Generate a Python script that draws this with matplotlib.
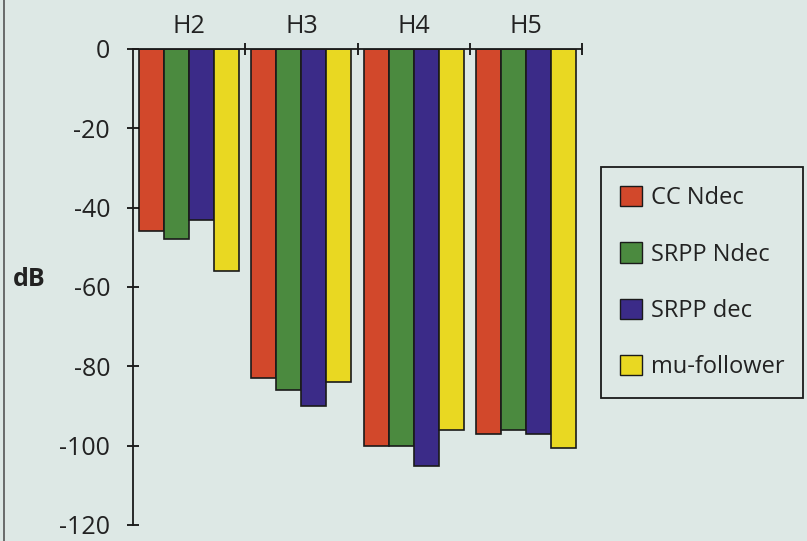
import numpy as np
from matplotlib import pyplot as plt
from matplotlib.patches import Patch

plt.rcParams['font.family'] = ['Open Sans', 'DejaVu Sans']

groups = ["H2", "H3", "H4", "H5"]
series = ["CC Ndec", "SRPP Ndec", "SRPP dec", "mu-follower"]
cc_ndec = [-46, -83, -100, -97]
srpp_ndec = [-48, -86, -100, -96]
srpp_dec = [-43, -90, -105, -97]
mu_follower = [-56, -84, -96, -100.5]
yticks = [0, -20, -40, -60, -80, -100, -120]

colors = ["#d2482b", "#4b8a3f", "#3b2b88", "#e9d822"]
bg = "#dde8e5"


def main():
    fig = plt.figure(figsize=(8.07, 5.41), dpi=100, facecolor=bg)
    W, H = 807, 541
    ax = fig.add_axes([133 / W, (H - 525) / H, (582 - 133) / W, (525 - 49) / H])
    ax.set_facecolor(bg)

    x = np.arange(len(groups))
    w = 0.223
    values = [cc_ndec, srpp_ndec, srpp_dec, mu_follower]
    for i, vals in enumerate(values):
        ax.bar(x + (i - 1.5) * w, vals, width=w, color=colors[i],
               edgecolor="#1a1a1a", linewidth=1.2, label=series[i])

    ax.set_xlim(-0.5, 3.5)
    ax.set_ylim(-120, 0)

    for s in ["right", "bottom"]:
        ax.spines[s].set_visible(False)
    ax.spines["left"].set_color("#1a1a1a")
    ax.spines["top"].set_color("#1a1a1a")
    ax.spines["left"].set_linewidth(1.3)
    ax.spines["top"].set_linewidth(1.3)

    ax.set_yticks(yticks)
    ax.set_yticklabels([str(v) for v in yticks], fontsize=18, color="#222222")
    ax.tick_params(axis="y", direction="inout", length=9, width=1.2, pad=12)

    ax.xaxis.tick_top()
    ax.set_xticks(x)
    ax.set_xticklabels(groups, fontsize=18, color="#222222")
    ax.tick_params(axis="x", which="major", length=0, pad=7)
    ax.set_xticks(np.arange(len(groups)) + 0.5, minor=True)
    ax.tick_params(axis="x", which="minor", direction="inout", length=9, width=1.2)

    fig.text(13 / W, 1 - 280 / H, "dB", fontsize=18, fontweight="bold",
             color="#222222", va="center", ha="left")

    # thin frame line on the left edge
    fig.add_artist(plt.Line2D([4 / W, 4 / W], [0, 1], color="#555555", linewidth=1.2,
                              transform=fig.transFigure))

    handles = [Patch(facecolor=colors[i], edgecolor="#1a1a1a", linewidth=1.0)
               for i in range(len(series))]
    leg = fig.legend(handles, series, loc="upper left",
                     bbox_to_anchor=(601 / W, 1 - 167 / H), fontsize=17,
                     frameon=True, fancybox=False, edgecolor="#1a1a1a",
                     facecolor=bg, framealpha=1, handlelength=0.95,
                     handleheight=0.95, handletextpad=0.35, labelspacing=1.36,
                     borderpad=0.8, borderaxespad=0)
    leg.get_frame().set_linewidth(1.3)
    for t in leg.get_texts():
        t.set_color("#222222")

    fig.savefig("out.png", dpi=100, facecolor=bg)


if __name__ == "__main__":
    main()
